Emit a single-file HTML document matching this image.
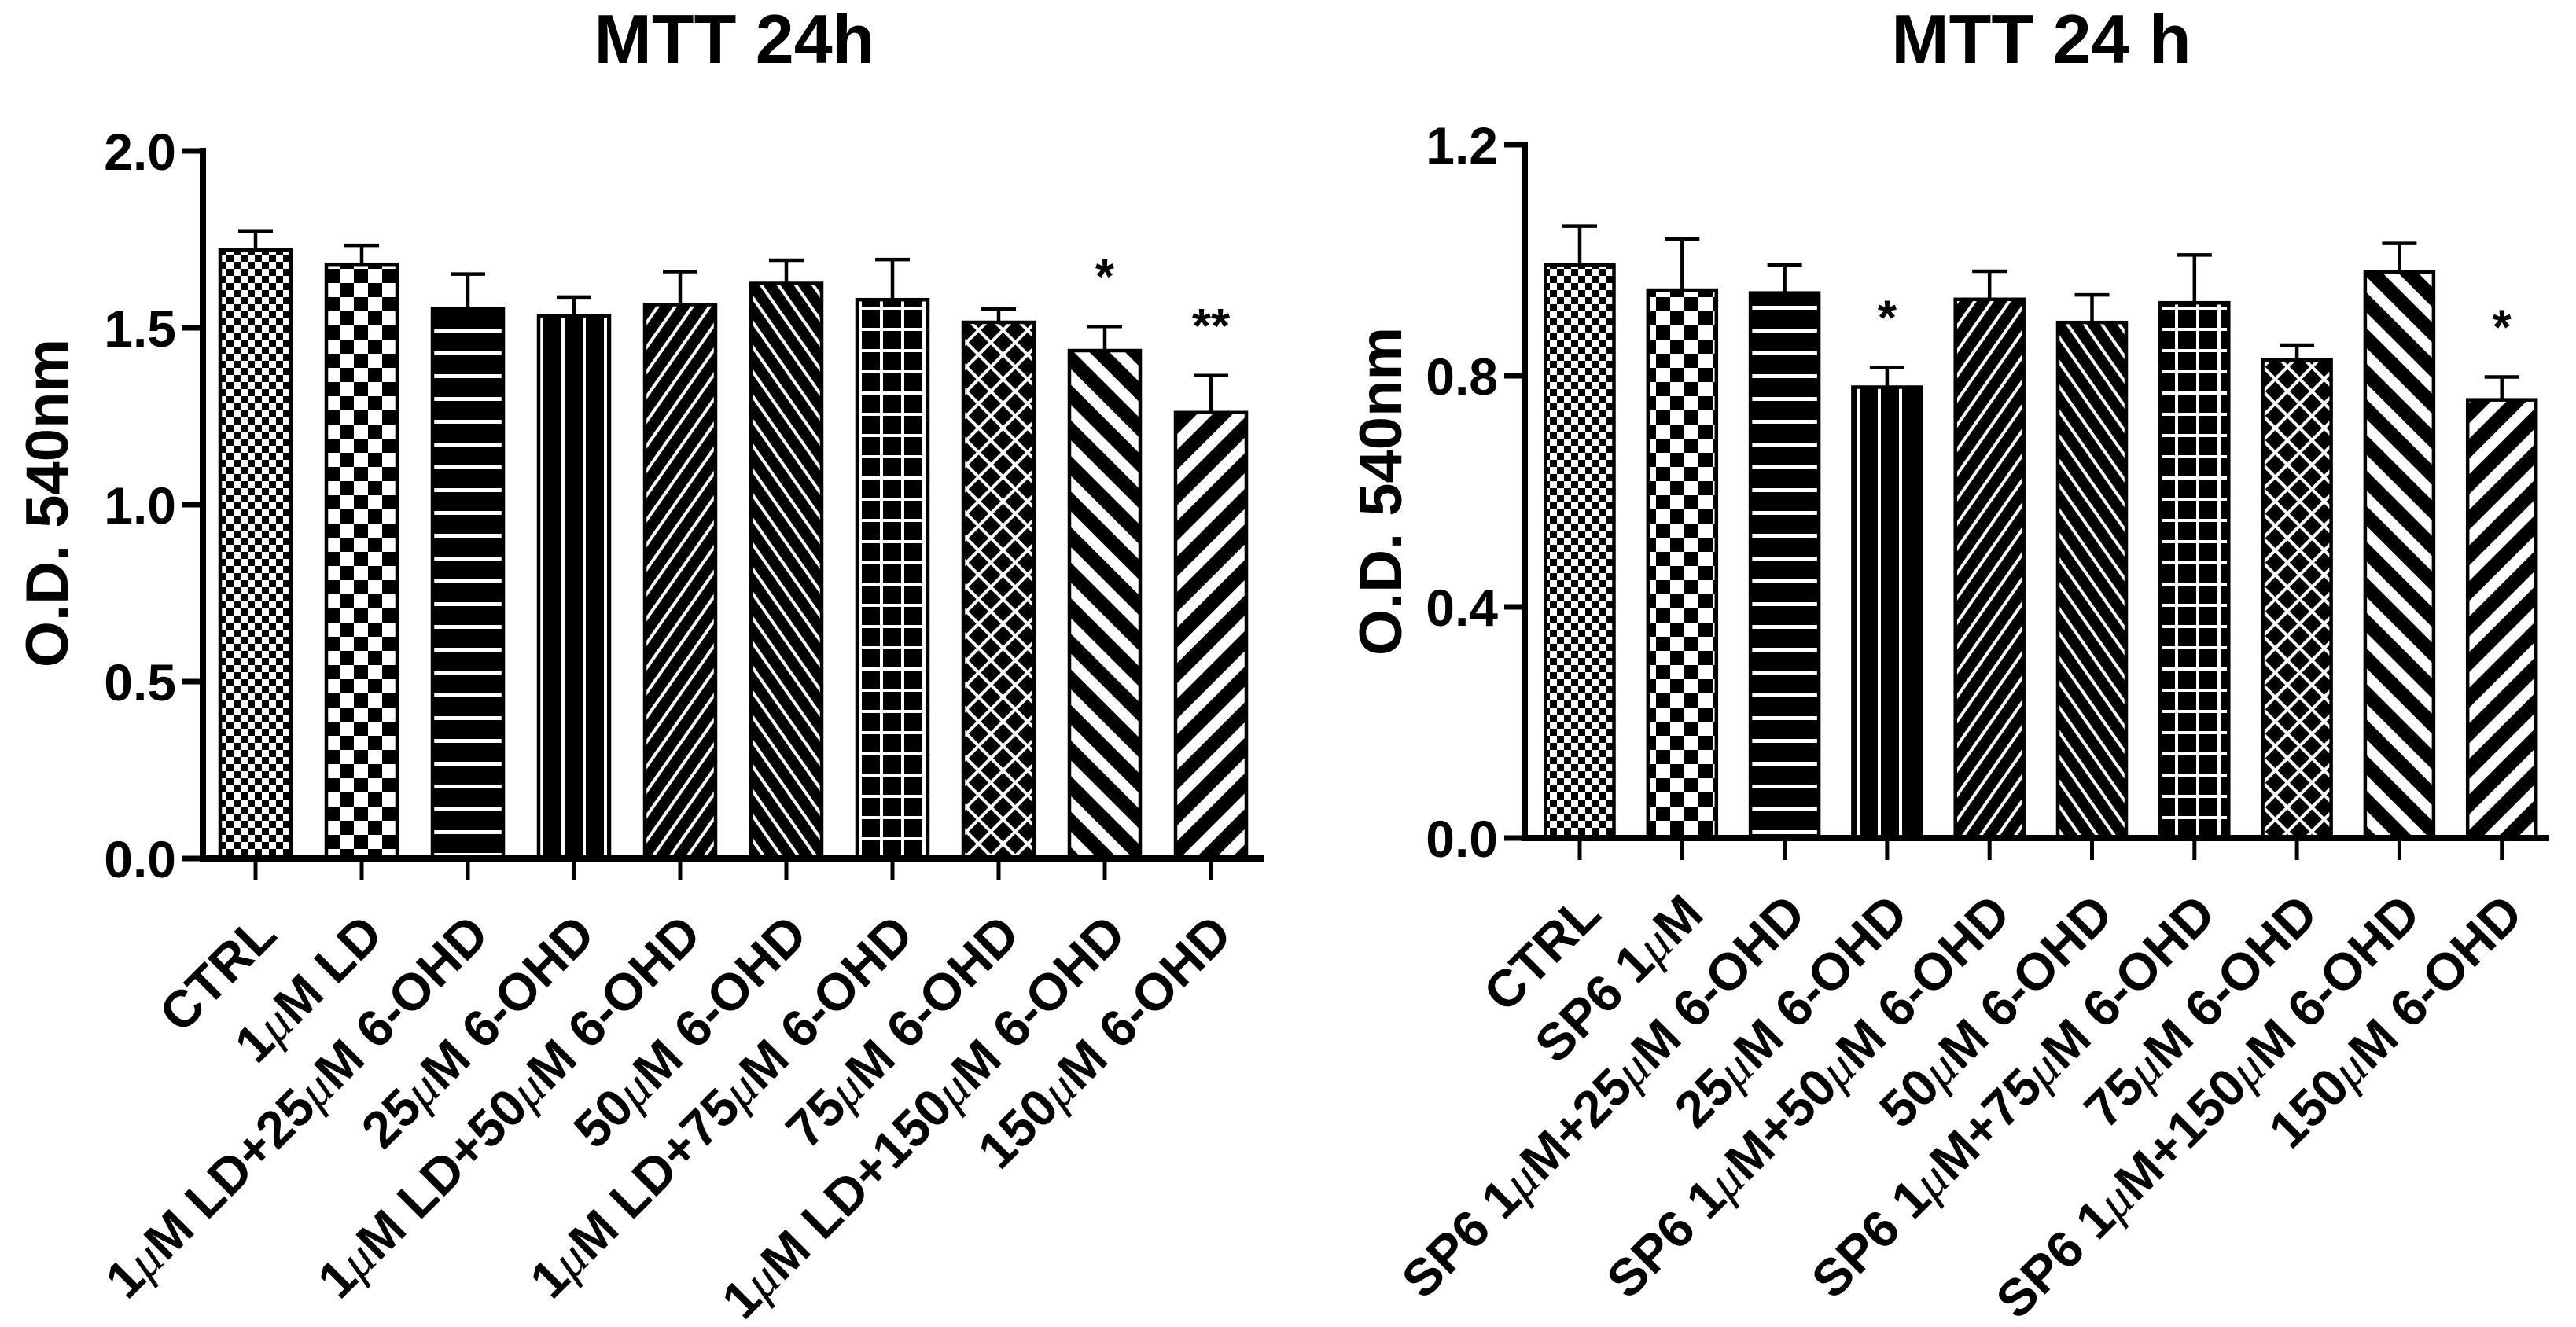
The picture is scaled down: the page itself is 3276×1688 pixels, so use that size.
<!DOCTYPE html>
<html><head><meta charset="utf-8"><style>
html,body{margin:0;padding:0;background:#fff;}
svg{display:block;}
text{font-family:"Liberation Sans",Arial,sans-serif;font-weight:bold;fill:#000;}
</style></head><body>
<svg id="fig" width="3276" height="1688" viewBox="0 0 3276 1688" xmlns="http://www.w3.org/2000/svg">
<defs>
<pattern id="p0" patternUnits="userSpaceOnUse" width="18" height="18"><rect width="18" height="18" fill="#fff"/><rect width="9" height="9" fill="#000"/><rect x="9" y="9" width="9" height="9" fill="#000"/></pattern>
<pattern id="p1" patternUnits="userSpaceOnUse" width="36" height="36"><rect width="36" height="36" fill="#fff"/><rect width="18" height="18" fill="#000"/><rect x="18" y="18" width="18" height="18" fill="#000"/></pattern>
<pattern id="p2" patternUnits="userSpaceOnUse" width="40" height="29"><rect width="40" height="29" fill="#000"/><rect y="12" width="40" height="5" fill="#fff"/></pattern>
<pattern id="p3" patternUnits="userSpaceOnUse" width="27" height="40"><rect width="27" height="40" fill="#000"/><rect x="12" width="4" height="40" fill="#fff"/></pattern>
<pattern id="p4" patternUnits="userSpaceOnUse" width="18" height="40" patternTransform="rotate(35)"><rect width="18" height="40" fill="#000"/><rect x="7" width="4" height="40" fill="#fff"/></pattern>
<pattern id="p5" patternUnits="userSpaceOnUse" width="18" height="40" patternTransform="rotate(-35)"><rect width="18" height="40" fill="#000"/><rect x="7" width="4" height="40" fill="#fff"/></pattern>
<pattern id="p6" patternUnits="userSpaceOnUse" width="27" height="27"><rect width="27" height="27" fill="#000"/><rect x="12" width="4" height="27" fill="#fff"/><rect y="12" width="27" height="4" fill="#fff"/></pattern>
<pattern id="p7" patternUnits="userSpaceOnUse" width="22" height="22" patternTransform="rotate(45)"><rect width="22" height="22" fill="#000"/><rect x="9" width="4" height="22" fill="#fff"/><rect y="9" width="22" height="4" fill="#fff"/></pattern>
<pattern id="p8" patternUnits="userSpaceOnUse" width="32" height="40" patternTransform="rotate(-45)"><rect width="32" height="40" fill="#000"/><rect x="9" width="14" height="40" fill="#fff"/></pattern>
<pattern id="p9" patternUnits="userSpaceOnUse" width="32" height="40" patternTransform="rotate(45)"><rect width="32" height="40" fill="#000"/><rect x="9" width="14" height="40" fill="#fff"/></pattern>
</defs>
<g id="left"></g>
<g id="right"></g>
</svg>
<script>
const leftCategories = ["CTRL","1μM LD","1μM LD+25μM 6-OHD","25μM 6-OHD","1μM LD+50μM 6-OHD","50μM 6-OHD","1μM LD+75μM 6-OHD","75μM 6-OHD","1μM LD+150μM 6-OHD","150μM 6-OHD"];
const leftMeans = [1.725,1.684,1.559,1.538,1.570,1.630,1.584,1.520,1.440,1.265];
const leftErrors = [0.049,0.049,0.093,0.049,0.089,0.061,0.109,0.033,0.064,0.100];
const leftStars = ["","","","","","","","","*","**"];
const leftTicks = [0,0.5,1.0,1.5,2.0];
const leftTickLabels = ["0.0","0.5","1.0","1.5","2.0"];

const rightCategories = ["CTRL","SP6 1μM","SP6 1μM+25μM 6-OHD","25μM 6-OHD","SP6 1μM+50μM 6-OHD","50μM 6-OHD","SP6 1μM+75μM 6-OHD","75μM 6-OHD","SP6 1μM+150μM 6-OHD","150μM 6-OHD"];
const rightMeans = [0.995,0.951,0.946,0.783,0.935,0.895,0.929,0.830,0.982,0.761];
const rightErrors = [0.064,0.086,0.046,0.031,0.046,0.045,0.080,0.023,0.047,0.037];
const rightStars = ["","","","*","","","","","","*"];
const rightTicks = [0,0.4,0.8,1.2];
const rightTickLabels = ["0.0","0.4","0.8","1.2"];

const NS="http://www.w3.org/2000/svg";
function mk(parent,tag,attrs){const e=document.createElementNS(NS,tag);for(const k in attrs)e.setAttribute(k,attrs[k]);parent.appendChild(e);return e;}
function addLabel(t,str){
  const parts=str.split("μ");
  parts.forEach((p,i)=>{ if(i>0){const m=document.createElementNS(NS,"tspan");m.setAttribute("font-family","'Liberation Serif',serif");m.setAttribute("font-style","italic");m.setAttribute("font-weight","normal");m.textContent="μ";t.appendChild(m);} t.appendChild(document.createTextNode(p)); });
}
function drawChart(g,cfg){
  const yScale=v=>cfg.y0-(v-cfg.vmin)/(cfg.vmax-cfg.vmin)*(cfg.y0-cfg.y1);
  const xScale=i=>cfg.x0c+i*cfg.step;
  const title=mk(g,"text",{x:cfg.titleX,y:80,"text-anchor":"middle","font-size":88});
  
  
  title.textContent=cfg.title;
  const yt=mk(g,"text",{x:0,y:0,"text-anchor":"middle","font-size":76,transform:`translate(${cfg.yTitleX},${cfg.yTitleY}) rotate(-90)`});
  
  
  yt.textContent="O.D. 540nm";
  cfg.means.forEach((v,i)=>{
    const cx=xScale(i), top=yScale(v), bw=cfg.bw;
    const eb=mk(g,"g",{});
    
    
    const et=yScale(v+cfg.errs[i]);
    mk(eb,"line",{x1:cx,y1:top,x2:cx,y2:et,stroke:"#000","stroke-width":4.5});
    mk(eb,"line",{x1:cx-22,y1:et,x2:cx+22,y2:et,stroke:"#000","stroke-width":4.5});
    const r=mk(g,"rect",{x:cx-bw/2+2,y:top+2,width:bw-4,height:cfg.y0-top-2,fill:`url(#p${i})`,stroke:"#000","stroke-width":4.5});
    
    
    if(cfg.stars[i]){
      const s=mk(g,"text",{x:cx,y:et-cfg.starGap,"text-anchor":"middle","font-size":62});
      
      
      s.textContent=cfg.stars[i];
    }
  });
  const ax=mk(g,"g",{});
  
  
  mk(ax,"line",{x1:cfg.axX,y1:cfg.y1-4,x2:cfg.axX,y2:cfg.y0+4,stroke:"#000","stroke-width":8});
  cfg.ticks.forEach((t,i)=>{
    const y=yScale(t);
    mk(ax,"line",{x1:cfg.axX-26,y1:y,x2:cfg.axX,y2:y,stroke:"#000","stroke-width":7});
    const tl=mk(ax,"text",{x:cfg.axX-34,y:y+24,"text-anchor":"end","font-size":66});
    
    
    tl.textContent=cfg.tickLabels[i];
  });
  const xa=mk(g,"g",{});
  
  
  mk(xa,"line",{x1:cfg.axX-4,y1:cfg.y0,x2:cfg.axEnd,y2:cfg.y0,stroke:"#000","stroke-width":8});
  cfg.cats.forEach((c,i)=>{
    const cx=xScale(i);
    mk(xa,"line",{x1:cx,y1:cfg.y0,x2:cx,y2:cfg.y0+28,stroke:"#000","stroke-width":5});
    const t=mk(xa,"text",{x:0,y:0,"text-anchor":"end","font-size":66,transform:`translate(${cx+30},${cfg.y0+100}) rotate(-45)`});
    
    
    addLabel(t,c);
  });
}
drawChart(document.getElementById("left"),{title:"MTT 24h",titleX:934,yTitleX:86,yTitleY:640,
  means:leftMeans,errs:leftErrors,stars:leftStars,cats:leftCategories,ticks:leftTicks,tickLabels:leftTickLabels,
  vmin:0,vmax:2.0,y0:1092,y1:192,x0c:325,step:135,bw:94,axX:258,axEnd:1608,starGap:42});
drawChart(document.getElementById("right"),{title:"MTT 24 h",titleX:2596,yTitleX:1782,yTitleY:625,
  means:rightMeans,errs:rightErrors,stars:rightStars,cats:rightCategories,ticks:rightTicks,tickLabels:rightTickLabels,
  vmin:0,vmax:1.2,y0:1066,y1:184,x0c:2009,step:130.3,bw:91,axX:1939,axEnd:3242,starGap:42});
</script>
</body></html>
